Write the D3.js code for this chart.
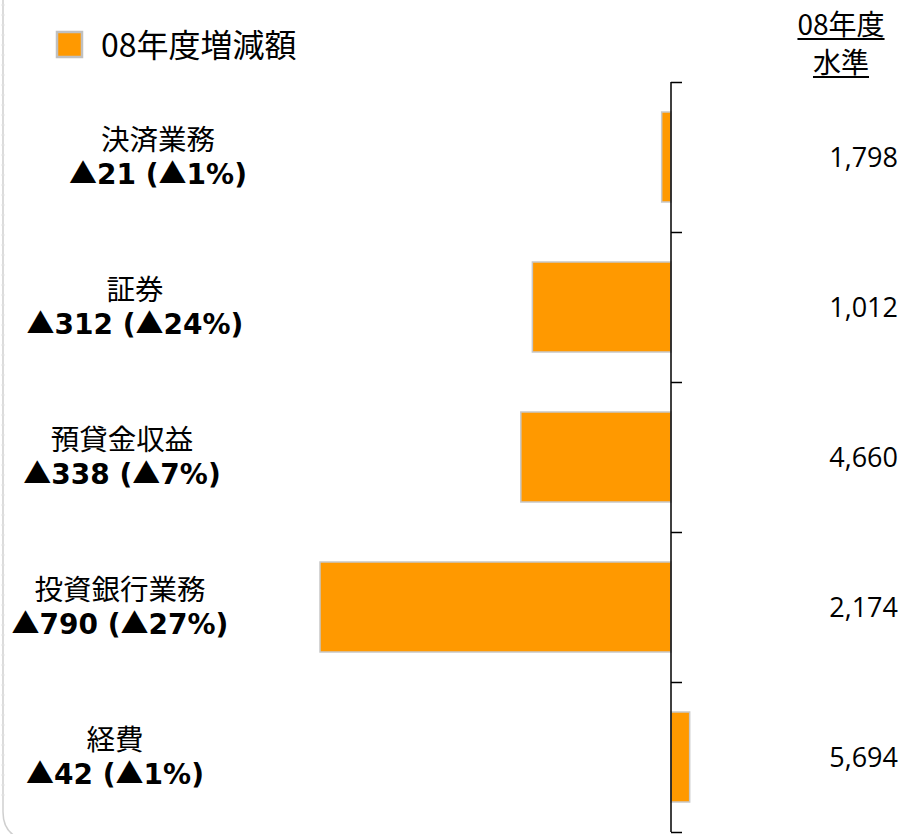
<!DOCTYPE html>
<html>
<head>
<meta charset="utf-8">
<script src="https://cdn.jsdelivr.net/npm/d3@7"></script>
<style>
  body { margin: 0; background: #fff; }
  text { font-family: "Noto Sans CJK JP", "Noto Sans", sans-serif; fill: #000; }
</style>
</head>
<body>
<div id="chart"></div>
<script>
// Chart data
const categories = ["決済業務", "証券", "預貸金収益", "投資銀行業務", "経費"];
const changeLabels = ["▲21 (▲1%)", "▲312 (▲24%)", "▲338 (▲7%)", "▲790 (▲27%)", "▲42 (▲1%)"];
const changeValues = [-21, -312, -338, -790, 42];   // bar direction = effect on profit
const levelValues = ["1,798", "1,012", "4,660", "2,174", "5,694"];
const legendLabel = "08年度増減額";
const levelHeader = ["08年度", "水準"];

// layout: centre x of each category label (text boxes in the original are not aligned)
const labelCenters = [158, 135, 122, 120, 115];

const width = 903, height = 834;

const svg = d3.select("#chart").append("svg")
    .attr("width", width)
    .attr("height", height);

// faint left frame with rounded bottom corner
svg.append("path")
    .attr("d", "M3,0 V812 Q3,834 24,840")
    .attr("fill", "none")
    .attr("stroke", "#cfcfcf")
    .attr("stroke-width", 1.5);
svg.append("g").selectAll("line")
    .data(d3.range(5, 800, 10))
    .join("line")
    .attr("x1", 1).attr("x2", 5)
    .attr("y1", d => d).attr("y2", d => d)
    .attr("stroke", "#e4e4e4");

// scales
const x = d3.scaleLinear()
    .domain([-790, 0])
    .range([320, 671]);

const y = d3.scaleBand()
    .domain(categories)
    .range([82, 832])
    .paddingInner(0.4)
    .paddingOuter(0.2);

const edge = d3.scaleLinear()
    .domain([0, categories.length])
    .range([82, 832]);

// bars
svg.selectAll("rect.bar")
    .data(changeValues)
    .join("rect")
    .attr("class", "bar")
    .attr("x", d => x(Math.min(0, d)))
    .attr("y", (d, i) => y(categories[i]))
    .attr("width", d => Math.abs(x(d) - x(0)))
    .attr("height", y.bandwidth())
    .attr("fill", "#ff9900")
    .attr("stroke", "#c8c8c8")
    .attr("stroke-width", 1.5);

// category axis at zero with boundary ticks
const axis = svg.append("g")
    .attr("transform", `translate(${x(0)},0)`)
    .call(d3.axisRight(edge)
        .tickValues(d3.range(0, categories.length + 1))
        .tickSize(11)
        .tickFormat(""));
axis.select(".domain")
    .attr("d", `M0,${edge(0)}V${edge(categories.length)}`)
    .attr("stroke", "#000")
    .attr("stroke-width", 1.5);
axis.selectAll(".tick line").attr("stroke", "#000").attr("stroke-width", 1.5);

// category labels: name on line 1, change (bold) on line 2, one text block each
const labels = svg.append("g");
categories.forEach((c, i) => {
    const cy = y(c) + y.bandwidth() / 2;
    const t = labels.append("text")
        .attr("x", labelCenters[i])
        .attr("y", cy - 7)
        .attr("text-anchor", "middle");
    t.append("tspan")
        .style("font-size", "28.5px")
        .text(c);
    // triangles from the CJK font (full width), digits from DejaVu
    changeLabels[i].split(/(▲)/).filter(s => s).forEach((s, k) => {
        const sp = t.append("tspan")
            .style("font-size", "28px")
            .style("font-weight", "bold")
            .style("font-family", s === "▲"
                ? "'Noto Sans CJK JP', sans-serif"
                : "'DejaVu Sans', sans-serif")
            .text(s);
        if (k === 0) sp.attr("x", labelCenters[i]).attr("dy", 34);
    });
});

// level values on the right
svg.append("g").selectAll("text")
    .data(levelValues)
    .join("text")
    .attr("x", 898)
    .attr("y", (d, i) => y(categories[i]) + y.bandwidth() / 2 + 10)
    .attr("text-anchor", "end")
    .style("font-family", "'Open Sans', sans-serif")
    .style("font-size", "27px")
    .text(d => d);

// level header (underlined)
levelHeader.forEach((t, i) => {
    const ty = 35 + i * 38;
    const txt = svg.append("text")
        .attr("x", 841)
        .attr("y", ty)
        .attr("text-anchor", "middle")
        .style("font-size", "28px")
        .text(t);
    const bb = txt.node().getBBox();
    svg.append("line")
        .attr("x1", bb.x).attr("x2", bb.x + bb.width)
        .attr("y1", ty + 4).attr("y2", ty + 4)
        .attr("stroke", "#000")
        .attr("stroke-width", 2);
});

// legend
svg.append("rect")
    .attr("x", 57).attr("y", 32)
    .attr("width", 25).attr("height", 25)
    .attr("fill", "#ff9900")
    .attr("stroke", "#c0c0c0")
    .attr("stroke-width", 2.5);
svg.append("text")
    .attr("x", 101)
    .attr("y", 57)
    .style("font-size", "32px")
    .text(legendLabel);
</script>
</body>
</html>
